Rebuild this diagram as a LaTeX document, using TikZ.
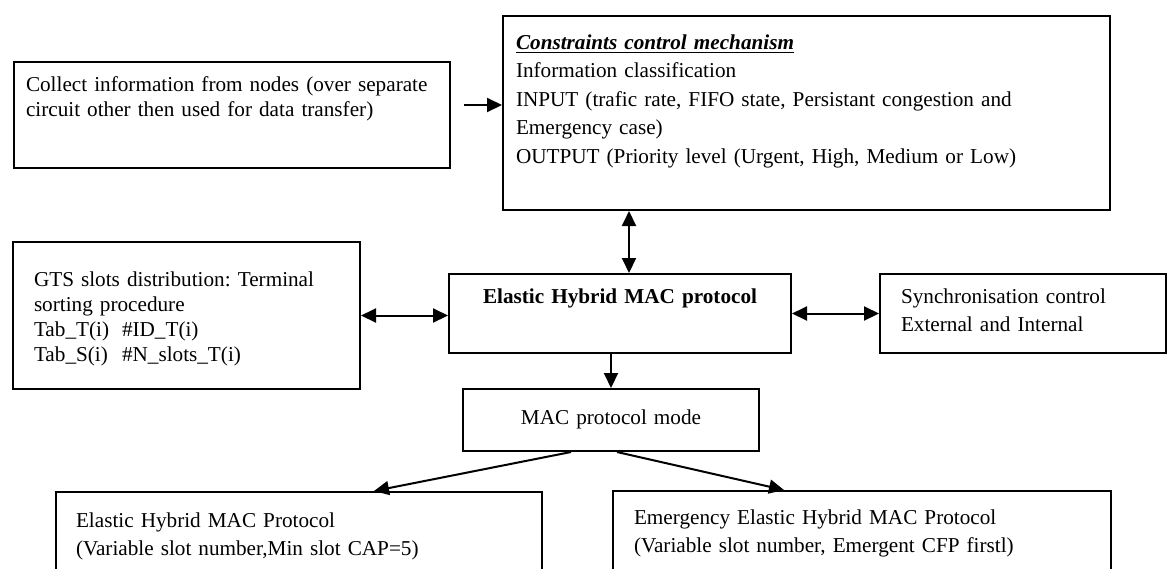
\documentclass[tikz,border=0pt]{standalone}
\usepackage{fontspec}
\setmainfont{Liberation Serif}
\usepackage{tikz}
\usetikzlibrary{arrows.meta}
\frenchspacing
\tikzset{
  blk/.style={draw, line width=1pt, anchor=north west, inner ysep=0pt, align=left,
    font=\fontsize{10.6}{14}\selectfont},
  arr/.style={line width=1pt, -{Triangle[length=7.5pt,width=7pt]}},
  darr/.style={line width=1pt, {Triangle[length=7.5pt,width=7pt]}-{Triangle[length=7.5pt,width=7pt]}}
}

\begin{document}
\begin{tikzpicture}[x=0.5pt,y=-0.5pt]
\path[use as bounding box, clip] (0,0) rectangle (1170,568);

% blocs du haut
\node[blk, inner xsep=6pt, text width=206pt, text height=14.5pt, text depth=38.5pt,
  font=\fontsize{10.6}{12.5}\selectfont] (collect) at (13,61)
  {Collect information from nodes (over separate\\circuit other then used for data transfer)};
\node[blk, inner xsep=6.5pt, text width=290.5pt, text height=16.5pt, text depth=80.5pt,
  font=\fontsize{10.6}{14.25}\selectfont] (cons) at (502,15)
  {\underline{\textbf{\textit{Constraints control mechanism}}}\\Information classification\\
   INPUT (trafic rate, FIFO state, Persistant congestion and\\Emergency case)\\
   OUTPUT (Priority level (Urgent, High, Medium or Low)};

% ligne du milieu
\node[blk, align=center, inner xsep=0pt, text width=171pt, text height=14.5pt, text depth=25pt] (ehp) at (448,273)
  {\textbf{Elastic Hybrid MAC protocol}};
\node[blk, inner xsep=10.5pt, text width=152.5pt, text height=22pt, text depth=51.5pt,
  font=\fontsize{10.6}{12.5}\selectfont] (gts) at (12,241)
  {GTS slots distribution: Terminal\\sorting procedure\\
   \makebox[44pt][l]{Tab\_T(i)}\#ID\_T(i)\\\makebox[44pt][l]{Tab\_S(i)}\#N\_slots\_T(i)};
\node[blk, inner xsep=10.5pt, text width=122pt, text height=14.5pt, text depth=25pt] (sync) at (879,273)
  {Synchronisation control\\External and Internal};

% modes
\node[blk, align=center, inner xsep=0pt, text width=148pt, text height=17.5pt, text depth=13.5pt] (mode) at (462,388)
  {MAC protocol mode};
\node[blk, inner xsep=10pt, text width=223pt, text height=17.5pt, text depth=37pt] (ehmac) at (55,491)
  {Elastic Hybrid MAC Protocol\\(Variable slot number,Min slot CAP=5)};
\node[blk, inner xsep=10.5pt, text width=228pt, text height=16.5pt, text depth=38pt] (eehmac) at (612,490)
  {Emergency Elastic Hybrid MAC Protocol\\(Variable slot number, Emergent CFP firstl)};

% fleches
\draw[arr] ([shift={(6.5pt,5pt)}]collect.east) -- ([yshift=5pt]collect.east -| cons.west);
\draw[darr] ([xshift=4.5pt]ehp.north) -- ([xshift=4.5pt]ehp.north |- cons.south);
\draw[darr] (gts.east) -- (gts.east -| ehp.west);
\draw[darr] (ehp.east) -- (sync.west);
\draw[arr] (mode.north |- ehp.south) -- (mode.north);
\draw[arr] ([xshift=-20pt]mode.south) -- ([xshift=37.5pt]ehmac.north);
\draw[arr] ([xshift=3pt]mode.south) -- ([xshift=-39pt]eehmac.north);
\end{tikzpicture}
\end{document}
